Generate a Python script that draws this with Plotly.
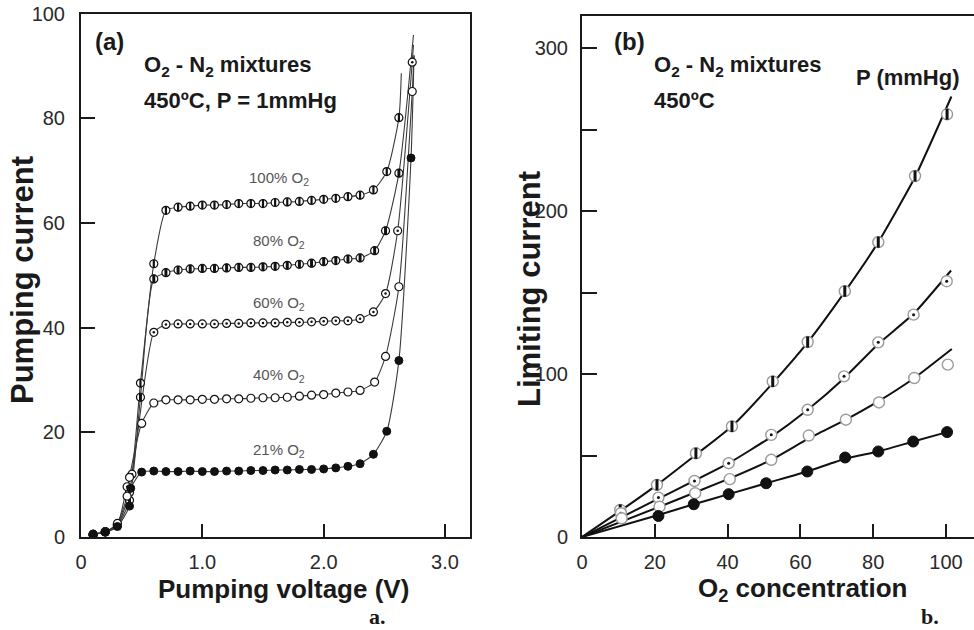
import plotly.graph_objects as go

W, H = 974, 630

# ---------------- Panel (a): pumping current vs pumping voltage ----------------
v_100 = [0.1, 0.2, 0.3, 0.4, 0.49, 0.6, 0.7, 0.8, 0.9, 1.0, 1.1, 1.2, 1.3, 1.4, 1.5, 1.6, 1.7,
         1.8, 1.9, 2.0, 2.1, 2.2, 2.3, 2.41, 2.52, 2.62]
i_100 = [0.5, 1.0, 2.3, 8.5, 29.4, 52.2, 62.4, 63.0, 63.2, 63.4, 63.4, 63.5, 63.7, 63.7, 63.7, 63.9, 64.0,
         64.1, 64.3, 64.5, 64.7, 65.0, 65.3, 66.3, 69.8, 80.1]
end_100 = (2.64, 88.6)

v_80 = [0.1, 0.2, 0.3, 0.4, 0.49, 0.6, 0.7, 0.8, 0.9, 1.0, 1.1, 1.2, 1.3, 1.4, 1.5, 1.6, 1.7,
        1.8, 1.9, 2.0, 2.1, 2.2, 2.3, 2.42, 2.51, 2.62]
i_80 = [0.5, 1.0, 2.2, 7.0, 26.7, 49.3, 50.5, 51.0, 51.2, 51.3, 51.3, 51.4, 51.5, 51.5, 51.6, 51.7, 51.9,
        52.1, 52.3, 52.6, 52.8, 53.1, 53.3, 54.7, 58.5, 69.5]
end_80 = (2.74, 95.9)

v_60 = [0.1, 0.2, 0.3, 0.38, 0.42, 0.6, 0.7, 0.8, 0.9, 1.0, 1.1, 1.2, 1.3, 1.4, 1.5, 1.6, 1.7,
        1.8, 1.9, 2.0, 2.1, 2.2, 2.3, 2.41, 2.51, 2.61, 2.73]
i_60 = [0.5, 1.0, 2.4, 9.6, 12.0, 39.1, 40.6, 40.7, 40.7, 40.7, 40.7, 40.8, 40.8, 40.9, 40.9, 40.9, 41.0,
        41.0, 41.1, 41.2, 41.3, 41.3, 41.7, 43.0, 46.5, 58.5, 90.7]
end_60 = (2.74, 94.0)

v_40 = [0.1, 0.2, 0.3, 0.38, 0.4, 0.5, 0.6, 0.7, 0.8, 0.9, 1.0, 1.1, 1.2, 1.3, 1.4, 1.5, 1.6, 1.7,
        1.8, 1.9, 2.0, 2.1, 2.2, 2.3, 2.42, 2.51, 2.62, 2.73]
i_40 = [0.5, 1.0, 2.6, 7.8, 11.4, 21.7, 25.6, 26.2, 26.2, 26.2, 26.3, 26.3, 26.4, 26.4, 26.5, 26.6, 26.6, 26.7,
        26.9, 27.1, 27.2, 27.5, 27.7, 28.0, 29.6, 34.5, 47.8, 85.1]
end_40 = (2.745, 92.0)

v_21 = [0.1, 0.2, 0.3, 0.4, 0.41, 0.5, 0.6, 0.7, 0.8, 0.9, 1.0, 1.1, 1.2, 1.3, 1.4, 1.5, 1.6, 1.7,
        1.8, 1.9, 2.0, 2.1, 2.2, 2.3, 2.41, 2.52, 2.62, 2.72]
i_21 = [0.5, 0.9, 2.0, 5.9, 9.3, 12.4, 12.6, 12.5, 12.5, 12.6, 12.5, 12.5, 12.6, 12.6, 12.7, 12.7, 12.8, 12.8,
        12.9, 12.9, 13.0, 13.2, 13.5, 14.0, 15.8, 20.2, 33.7, 72.4]
end_21 = (2.745, 92.0)

a_xticks = [0, 1, 2, 3]
a_xticktext = ["0", "1.0", "2.0", "3.0"]
a_yticks = [0, 20, 40, 60, 80, 100]

# ---------------- Panel (b): limiting current vs O2 concentration ----------------
conc_s1 = [10.5, 20.6, 31.3, 41.2, 52.4, 62.0, 72.2, 81.4, 91.5, 100.3]
lim_s1 = [16.6, 32.0, 51.4, 67.9, 95.5, 119.7, 150.9, 181.0, 221.6, 259.5]
fit_s1_x = [0, 10.5, 20.6, 31.3, 41.2, 52.4, 62.0, 72.2, 81.4, 91.5, 101.5]
fit_s1_y = [0, 16.0, 32.0, 50.5, 68.0, 94.5, 119.5, 150.5, 181.0, 221.0, 270.4]

conc_s2 = [10.7, 21.0, 30.9, 40.3, 52.0, 62.0, 72.0, 81.4, 91.1, 100.2]
lim_s2 = [14.6, 24.2, 34.4, 45.3, 62.7, 78.1, 98.6, 119.5, 136.5, 157.0]
fit_s2_x = [0, 21.0, 40.3, 52.0, 62.0, 72.0, 81.4, 91.1, 101.4]
fit_s2_y = [0, 23.5, 45.3, 61.5, 78.1, 97.5, 118.5, 137.0, 163.6]

conc_s3 = [10.9, 21.3, 31.1, 40.6, 52.0, 62.3, 72.5, 81.6, 91.3, 100.5]
lim_s3 = [11.5, 18.6, 26.9, 35.5, 47.4, 62.3, 72.0, 82.6, 97.6, 105.8]
fit_s3_x = [0, 21.3, 40.6, 52.0, 62.3, 72.5, 81.6, 91.3, 101.6]
fit_s3_y = [0, 18.6, 36.0, 47.4, 60.5, 72.0, 83.5, 97.6, 115.4]

conc_s4 = [21.0, 30.7, 40.3, 50.6, 61.9, 72.3, 81.4, 91.0, 100.3]
lim_s4 = [12.9, 20.1, 26.3, 33.0, 40.2, 48.8, 52.5, 58.6, 64.4]
fit_s4_x = [0, 21.0, 30.7, 40.3, 50.6, 61.9, 72.3, 81.4, 91.0, 100.3]
fit_s4_y = [0, 13.5, 20.1, 26.3, 33.0, 40.2, 48.0, 52.5, 58.6, 64.4]

b_xticks = [0, 20, 40, 60, 80, 100]
b_yticks = [0, 50, 100, 150, 200, 250, 300]
b_yticktext = ["0", "", "100", "", "200", "", "300"]

FONT = "Liberation Sans, Arial, sans-serif"
INK = "#1a1a1a"

fig = go.Figure()

# ---- panel (a) traces ----
series_a = [
    (v_100, i_100, end_100, "100"),
    (v_80, i_80, end_80, "80"),
    (v_60, i_60, end_60, "60"),
    (v_40, i_40, end_40, "40"),
    (v_21, i_21, end_21, "21"),
]
for v, i, end, name in series_a:
    fig.add_trace(go.Scatter(
        x=v + [end[0]], y=i + [end[1]], mode="lines",
        line=dict(color="#3a3a3a", width=1.1, shape="spline", smoothing=0.6),
        xaxis="x", yaxis="y", showlegend=False, hoverinfo="skip"))

ms_a = 8
for v, i, end, name in series_a:
    if name == "21":
        fig.add_trace(go.Scatter(x=v, y=i, mode="markers", xaxis="x", yaxis="y", showlegend=False,
                                 marker=dict(symbol="circle", size=ms_a, color="#111",
                                             line=dict(color="#111", width=1))))
    else:
        fig.add_trace(go.Scatter(x=v, y=i, mode="markers", xaxis="x", yaxis="y", showlegend=False,
                                 marker=dict(symbol="circle", size=ms_a, color="white",
                                             line=dict(color="#111", width=1.2))))
        if name in ("100", "80"):
            fig.add_trace(go.Scatter(x=v, y=i, mode="markers", xaxis="x", yaxis="y", showlegend=False,
                                     marker=dict(symbol="line-ns", size=6,
                                                 line=dict(color="#111", width=3 if name == "80" else 2.2))))
        elif name == "60":
            fig.add_trace(go.Scatter(x=v, y=i, mode="markers", xaxis="x", yaxis="y", showlegend=False,
                                     marker=dict(symbol="circle", size=2.5, color="#111",
                                                 line=dict(width=0))))

# ---- panel (b) traces ----
for fx, fy in [(fit_s1_x, fit_s1_y), (fit_s2_x, fit_s2_y), (fit_s3_x, fit_s3_y), (fit_s4_x, fit_s4_y)]:
    fig.add_trace(go.Scatter(x=fx, y=fy, mode="lines", xaxis="x2", yaxis="y2", showlegend=False,
                             line=dict(color="#111", width=2, shape="spline", smoothing=0.5),
                             hoverinfo="skip"))

ms_b = 11
open_marker = dict(symbol="circle", size=ms_b, color="white", line=dict(color="#9a9a9a", width=1.4))
fig.add_trace(go.Scatter(x=conc_s1, y=lim_s1, mode="markers", xaxis="x2", yaxis="y2",
                         showlegend=False, marker=open_marker))
fig.add_trace(go.Scatter(x=conc_s1, y=lim_s1, mode="markers", xaxis="x2", yaxis="y2", showlegend=False,
                         marker=dict(symbol="line-ns", size=8, line=dict(color="#111", width=3))))
fig.add_trace(go.Scatter(x=conc_s2, y=lim_s2, mode="markers", xaxis="x2", yaxis="y2",
                         showlegend=False, marker=open_marker))
fig.add_trace(go.Scatter(x=conc_s2, y=lim_s2, mode="markers", xaxis="x2", yaxis="y2", showlegend=False,
                         marker=dict(symbol="circle", size=3, color="#111", line=dict(width=0))))
fig.add_trace(go.Scatter(x=conc_s3, y=lim_s3, mode="markers", xaxis="x2", yaxis="y2",
                         showlegend=False, marker=open_marker))
fig.add_trace(go.Scatter(x=conc_s4, y=lim_s4, mode="markers", xaxis="x2", yaxis="y2", showlegend=False,
                         marker=dict(symbol="circle", size=ms_b, color="#111", line=dict(color="#111", width=1))))

# ---- layout ----
axis_common = dict(showline=True, linecolor=INK, linewidth=2, ticks="inside", tickcolor=INK,
                   tickwidth=2, showgrid=False, zeroline=False, automargin=False,
                   tickfont=dict(family=FONT, size=20, color="#2a2a2a"))

ydom_a = [1 - 537 / H, 1 - 13.5 / H]
ydom_b = [1 - 537 / H, 1 - 15.7 / H]

fig.update_layout(
    width=W, height=H, margin=dict(l=0, r=0, t=0, b=0, autoexpand=False),
    paper_bgcolor="white", plot_bgcolor="white",
    xaxis=dict(**axis_common, domain=[81 / W, 470 / W], range=[0, 3.206], mirror=True,
               tickvals=a_xticks, ticktext=a_xticktext, ticklen=13, anchor="y", ticklabelstandoff=6),
    yaxis=dict(**axis_common, domain=ydom_a, range=[0, 100], mirror=True,
               tickvals=a_yticks, ticklen=14, anchor="x", ticklabelstandoff=10),
    xaxis2=dict(**axis_common, domain=[582 / W, 1.0], range=[0, 107.7], mirror=True,
                tickvals=b_xticks, ticklen=13, anchor="y2", ticklabelstandoff=6),
    yaxis2=dict(**axis_common, domain=ydom_b, range=[0, 320], mirror=False,
                tickvals=b_yticks, ticktext=b_yticktext, ticklen=15, anchor="x2", ticklabelstandoff=8),
)


def ann(text, x, y, size, bold=False, color=INK, angle=0, xanchor="center", family=FONT):
    fig.add_annotation(text=f"<b>{text}</b>" if bold else text, x=x / W, y=1 - y / H,
                       xref="paper", yref="paper", showarrow=False, textangle=angle,
                       xanchor=xanchor, yanchor="middle",
                       font=dict(family=family, size=size, color=color))


# panel (a) texts
ann("(a)", 93, 42, 24, bold=True, xanchor="left")
ann("O<sub>2</sub> - N<sub>2</sub> mixtures", 142, 66, 22, bold=True, xanchor="left")
ann("450ºC, P = 1mmHg", 142, 101, 22, bold=True, xanchor="left")
for label, yy in [("100% O<sub>2</sub>", 178), ("80% O<sub>2</sub>", 242), ("60% O<sub>2</sub>", 303),
                  ("40% O<sub>2</sub>", 375), ("21% O<sub>2</sub>", 450)]:
    ann(label, 279, yy, 15, color="#555")
ann("Pumping voltage (V)", 283, 589, 26, bold=True)
ann("Pumping current", 22, 280, 31, bold=True, angle=-90)
ann("a.", 377, 616, 22, bold=True, family="Liberation Serif, Times New Roman, serif")

# panel (b) texts
ann("(b)", 612, 42, 24, bold=True, xanchor="left")
ann("O<sub>2</sub> - N<sub>2</sub> mixtures", 652, 66, 22, bold=True, xanchor="left")
ann("450ºC", 652, 101, 22, bold=True, xanchor="left")
ann("P (mmHg)", 908, 77, 22, bold=True)
ann("O<sub>2</sub> concentration", 803, 589, 26, bold=True)
ann("Limiting current", 530, 289, 31, bold=True, angle=-90)
ann("b.", 930, 616, 22, bold=True, family="Liberation Serif, Times New Roman, serif")

fig.write_html("out.html", config={"displayModeBar": False},
               post_script="document.body.style.margin='0';document.body.style.overflow='hidden';")
